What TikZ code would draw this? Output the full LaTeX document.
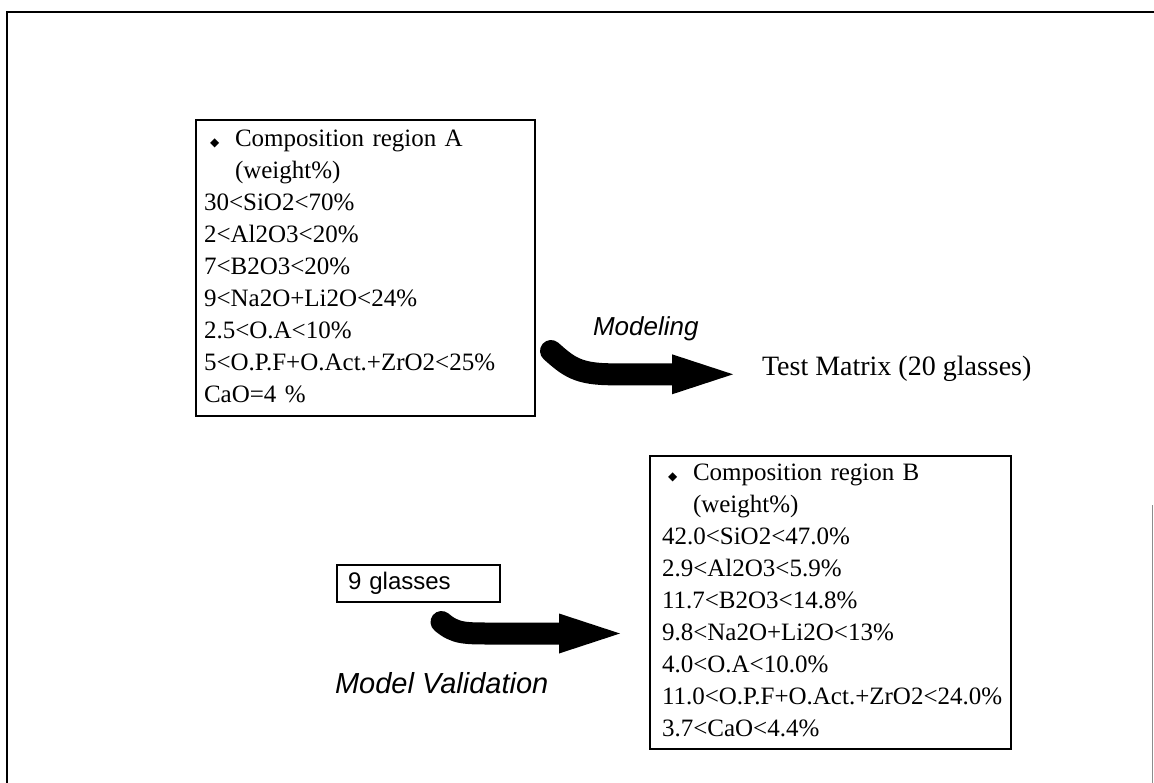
\documentclass[tikz,border=0pt]{standalone}
\usepackage{fontspec}
\setmainfont{Liberation Serif}
\newfontfamily\labelsans{Liberation Sans}
\newfontfamily\symbolfont{DejaVu Sans}
\usetikzlibrary{calc,arrows.meta}

\newcommand{\boxfont}{\fontsize{25}{32}\selectfont}
\newcommand{\bulletline}[1]{\strut\hspace{6pt}\makebox[25pt][l]{\symbolfont\fontsize{12}{12}\selectfont ◆}#1}
\newcommand{\indentline}[1]{\strut\hspace{31pt}#1}

\begin{document}
\begin{tikzpicture}[inner sep=0pt, outer sep=0pt, x=1pt, y=-1pt,
    region/.style={draw, line width=1.6pt, anchor=north west, align=left,
        inner xsep=8pt, inner ysep=4pt, font=\boxfont},
    fatarrow/.style={line width=22pt, line cap=round,
        -{Triangle[length=61pt,width=40pt,line width=0pt]}},
    process/.style={font=\labelsans\itshape\fontsize{#1}{30}\selectfont}]
    \useasboundingbox (0,0) rectangle (1154,783);

    % frame
    \draw[line width=2.5pt] (7,783) -- (7,12) -- (1154,12);
    \draw[line width=0.8pt, black!45] (1152,505) -- (1152,783);

    % composition region A
    \node[region, text width=323pt] (regionA) at (196,120)
    {\bulletline{Composition region A}\\
     \indentline{(weight\%)}\\
     \strut 30<SiO2<70\%\\
     \strut 2<Al2O3<20\%\\
     \strut 7<B2O3<20\%\\
     \strut 9<Na2O+Li2O<24\%\\
     \strut 2.5<O.A<10\%\\
     \strut 5<O.P.F+O.Act.+ZrO2<25\%\\
     \strut CaO=4 \%};

    % test matrix
    \node[anchor=base west, font=\fontsize{28}{32}\selectfont] (test) at (762,376)
    {Test Matrix (20 glasses)};

    % modeling
    \coordinate (modtail) at ([xshift=16pt,yshift=65pt]regionA.south east);
    \coordinate (modtip) at ([xshift=-29pt,yshift=-5pt]test.west);
    \draw[fatarrow] (modtail) .. controls +(18,16) and +(-35,0)
        .. ($(modtip)+(-120,0)$) -- (modtip);
    \node[process=26, anchor=base west] (modeling) at (593,336) {Modeling};

    % 9 glasses
    \node[draw, line width=1.6pt, anchor=north west, text width=141pt,
        inner xsep=11pt, minimum height=37pt, align=left,
        font=\labelsans\fontsize{24}{28}\selectfont] (glasses) at (337,565)
    {9 glasses};

    % composition region B
    \node[region, text width=337pt, inner xsep=12pt, inner ysep=2.5pt] (regionB) at (650,456)
    {\bulletline{Composition region B}\\
     \indentline{(weight\%)}\\
     \strut 42.0<SiO2<47.0\%\\
     \strut 2.9<Al2O3<5.9\%\\
     \strut 11.7<B2O3<14.8\%\\
     \strut 9.8<Na2O+Li2O<13\%\\
     \strut 4.0<O.A<10.0\%\\
     \strut 11.0<O.P.F+O.Act.+ZrO2<24.0\%\\
     \strut 3.7<CaO<4.4\%};

    % model validation
    \coordinate (valtail) at ([xshift=23pt,yshift=-20pt]glasses.south);
    \coordinate (valtip) at ([xshift=-30pt,yshift=-31pt]regionB.west);
    \draw[fatarrow] (valtail) .. controls +(14,12) and +(-30,0)
        .. ($(valtip)+(-125,0)$) -- (valtip);
    \node[process=29, anchor=base west] (validation) at (335,693) {Model Validation};
\end{tikzpicture}
\end{document}
